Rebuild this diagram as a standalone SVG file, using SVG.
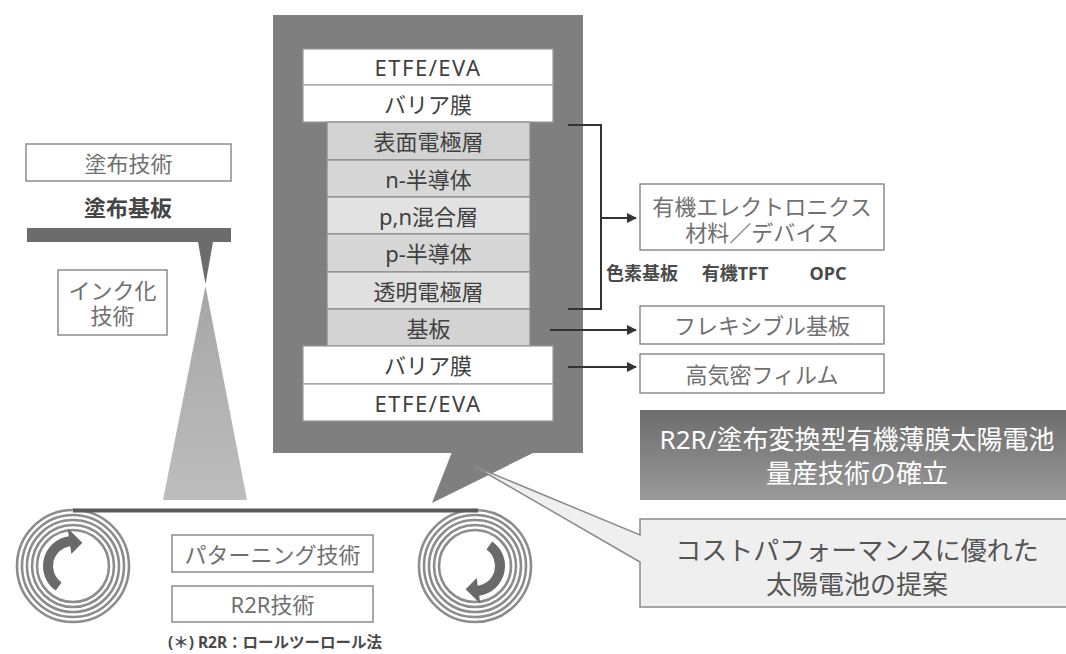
<svg xmlns="http://www.w3.org/2000/svg" width="1066" height="654" viewBox="0 0 1066 654">
  <defs>
    <style>
      text { font-family: "Noto Sans", "Noto Sans CJK JP", sans-serif; text-anchor: middle; dominant-baseline: central; }
      .layer-txt { font-size: 22px; fill: #404040; }
      .box { fill: #ffffff; stroke: #8c8c8c; stroke-width: 1.5; }
      .box-txt { font-size: 22px; fill: #707070; }
      .white-layer { fill: #ffffff; stroke: #9a9a9a; stroke-width: 1.2; }
      .gray-layer { stroke: #8a8a8a; stroke-width: 1.2; }
      .ring { fill: none; stroke: #8c8c8c; stroke-width: 2.6; }
      .roll-arrow { fill: #6a6a6a; }
      .conn { stroke: #333333; stroke-width: 2; fill: none; }
    </style>
    <marker id="arrow" viewBox="0 0 10 10" refX="9" refY="5" markerWidth="5" markerHeight="5" orient="auto" markerUnits="strokeWidth">
      <path d="M0 0 L10 5 L0 10 Z" fill="#333333"/>
    </marker>
    <linearGradient id="coneGrad" x1="0" y1="0" x2="0" y2="1">
      <stop offset="0" stop-color="#a6a6a6"/>
      <stop offset="1" stop-color="#bdbdbd"/>
    </linearGradient>
    <linearGradient id="headGrad" x1="0" y1="0" x2="0" y2="1">
      <stop offset="0" stop-color="#6c6c6c"/>
      <stop offset="1" stop-color="#9a9a9a"/>
    </linearGradient>
  </defs>

  <rect width="1066" height="654" fill="#ffffff"/>

  <!-- coating head, ink spray and coating technology labels -->
  <g id="coating">
    <rect class="box" x="26" y="144" width="205" height="37"/>
    <text class="box-txt" x="128.5" y="163">塗布技術</text>
    <text x="128" y="207" font-size="22" font-weight="bold" fill="#454545">塗布基板</text>
    <rect x="27" y="228" width="204" height="14" fill="#6c6c6c"/>
    <polygon points="198,242 213,242 205.5,284" fill="#6c6c6c"/>
    <polygon points="205.5,286 247,500 163,500" fill="url(#coneGrad)"/>
  </g>

  <g id="ink">
    <rect class="box" x="58" y="270" width="109" height="65"/>
    <text class="box-txt" font-size="21"><tspan x="112.5" y="290">インク化</tspan><tspan x="112.5" y="315">技術</tspan></text>
  </g>

  <!-- device stack inside the speech panel -->
  <g id="panel">
    <rect x="273" y="15" width="310" height="438" fill="#7f7f7f"/>
    <polygon points="452,452 535,452 432,503" fill="#7f7f7f"/>
  </g>

  <g id="layers">
    <rect class="white-layer" x="303" y="49" width="250" height="36"/>
    <text class="layer-txt" x="428" y="67" letter-spacing="1.5">ETFE/EVA</text>
    <rect class="white-layer" x="303" y="85" width="250" height="37"/>
    <text class="layer-txt" x="428" y="104">バリア膜</text>

    <rect class="gray-layer" x="327" y="122" width="203" height="38" fill="#d2d2d2"/>
    <text class="layer-txt" x="428.5" y="141">表面電極層</text>
    <rect class="gray-layer" x="327" y="160" width="203" height="37" fill="#d7d7d7"/>
    <text class="layer-txt" x="428.5" y="178.5">n-半導体</text>
    <rect class="gray-layer" x="327" y="197" width="203" height="37" fill="#e2e2e2"/>
    <text class="layer-txt" x="428.5" y="215.5">p,n混合層</text>
    <rect class="gray-layer" x="327" y="234" width="203" height="38" fill="#d6d6d6"/>
    <text class="layer-txt" x="428.5" y="253">p-半導体</text>
    <rect class="gray-layer" x="327" y="272" width="203" height="37" fill="#e0e0e0"/>
    <text class="layer-txt" x="428.5" y="290.5">透明電極層</text>
    <rect class="gray-layer" x="327" y="309" width="203" height="37" fill="#d3d3d3"/>
    <text class="layer-txt" x="428.5" y="327.5">基板</text>

    <rect class="white-layer" x="303" y="346" width="250" height="38"/>
    <text class="layer-txt" x="428" y="365">バリア膜</text>
    <rect class="white-layer" x="303" y="384" width="250" height="37"/>
    <text class="layer-txt" x="428" y="402.5" letter-spacing="1.5">ETFE/EVA</text>
  </g>

  <!-- connectors from the layer stack to the application boxes -->
  <g id="connectors">
    <polyline class="conn" points="568,125 601,125 601,309 568,309"/>
    <line class="conn" x1="601" y1="218" x2="636" y2="218" marker-end="url(#arrow)"/>
    <line class="conn" x1="550" y1="330" x2="636" y2="330" marker-end="url(#arrow)"/>
    <line class="conn" x1="568" y1="367" x2="636" y2="367" marker-end="url(#arrow)"/>
  </g>

  <g id="organic-electronics">
    <rect class="box" x="640" y="184" width="244" height="66" stroke="#999999"/>
    <text class="box-txt" font-size="21.5"><tspan x="762" y="206">有機エレクトロニクス</tspan><tspan x="762" y="232">材料／デバイス</tspan></text>
    <text y="273" font-size="18" font-weight="bold" fill="#4a4a4a" text-anchor="start"><tspan x="642">色素基板</tspan><tspan x="735">有機TFT</tspan><tspan x="828">OPC</tspan></text>
  </g>

  <g id="flexible-substrate">
    <rect class="box" x="640" y="306" width="244" height="38" stroke="#999999"/>
    <text class="box-txt" x="762" y="325">フレキシブル基板</text>
  </g>

  <g id="barrier-film">
    <rect class="box" x="640" y="354" width="244" height="39" stroke="#999999"/>
    <text class="box-txt" x="762" y="373.5">高気密フィルム</text>
  </g>

  <g id="headline">
    <rect x="640" y="410" width="434" height="90" fill="url(#headGrad)"/>
    <text font-size="26" fill="#ffffff"><tspan x="857" y="439">R2R/塗布変換型有機薄膜太陽電池</tspan><tspan x="857" y="473">量産技術の確立</tspan></text>
  </g>

  <g id="proposal">
    <path d="M640 519 L1074 519 L1074 607 L640 607 L640 562 L474 466 L640 535 Z" fill="#efefef" stroke="#8a8a8a" stroke-width="1.5" stroke-linejoin="miter"/>
    <text font-size="26" fill="#555555"><tspan x="857" y="550">コストパフォーマンスに優れた</tspan><tspan x="857" y="584">太陽電池の提案</tspan></text>
  </g>

  <!-- roll-to-roll transport -->
  <g id="roll-left">
    <circle class="ring" cx="73" cy="566" r="56"/>
    <circle class="ring" cx="73" cy="566" r="51"/>
    <circle class="ring" cx="73" cy="566" r="46"/>
    <circle class="ring" cx="73" cy="566" r="41"/>
    <circle class="ring" cx="73" cy="566" r="36"/>
    <path class="roll-arrow" d="M55.79 590.58 A30 30 0 0 1 68.82 536.29 L67.71 528.37 L82.37 542.82 L71.33 554.12 L70.22 546.19 A20 20 0 0 0 61.53 582.38 Z"/>
  </g>

  <g id="roll-right">
    <circle class="ring" cx="475" cy="566" r="56"/>
    <circle class="ring" cx="475" cy="566" r="51"/>
    <circle class="ring" cx="475" cy="566" r="46"/>
    <circle class="ring" cx="475" cy="566" r="41"/>
    <circle class="ring" cx="475" cy="566" r="36"/>
    <path class="roll-arrow" d="M492.21 541.42 A30 30 0 0 1 479.18 595.71 L480.29 603.63 L465.63 589.18 L476.67 577.88 L477.78 585.81 A20 20 0 0 0 486.47 549.62 Z"/>
  </g>

  <g id="web">
    <line x1="73" y1="510.5" x2="478" y2="510.5" stroke="#5a5a5a" stroke-width="4"/>
  </g>

  <g id="patterning">
    <rect class="box" x="172" y="535" width="201" height="37"/>
    <text class="box-txt" x="272.5" y="553.5">パターニング技術</text>
  </g>

  <g id="r2r">
    <rect class="box" x="172" y="586" width="201" height="36"/>
    <text class="box-txt" x="272.5" y="604">R2R技術</text>
  </g>

  <text x="275" y="642" font-size="15.5" font-weight="bold" fill="#4a4a4a">(＊) R2R：ロールツーロール法</text>
</svg>
